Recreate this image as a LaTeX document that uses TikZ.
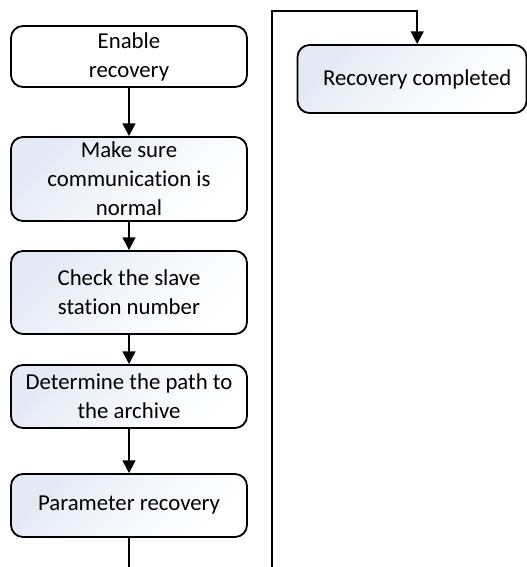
\documentclass[tikz,border=0pt]{standalone}
\usepackage{fontspec}
\setmainfont{Carlito}[Ligatures=NoCommon]
\usetikzlibrary{positioning,arrows.meta,calc}
\definecolor{paleblue}{HTML}{E3E9F5}

\begin{document}
\begin{tikzpicture}[
    plainbox/.style={draw,rounded corners=0.3cm,line width=1.3pt,minimum width=5.9cm,align=center,font=\fontsize{16.2}{20.6}\selectfont},
    pstep/.style={plainbox,top color=paleblue,bottom color=white,middle color=white!60!paleblue,shading angle=45},
    arrow/.style={-{Triangle[length=9pt,width=9pt]},line width=1.6pt},
    link/.style={line width=1.6pt},
]
\useasboundingbox (0,0) rectangle (13.175,14.175);

\node[plainbox] (enable) at (3.225,12.7625) [minimum height=1.525cm] {Enable\\recovery};
\node[pstep]    (comm)   at (3.225,9.7)     [minimum height=2.1cm]   {Make sure\\communication is\\normal};
\node[pstep]    (slave)  at (3.225,6.8625)  [minimum height=2.075cm] {Check the slave\\station number};
\node[pstep]    (path)   at (3.225,4.2625)  [minimum height=1.575cm] {Determine the path to\\the archive};
\node[pstep]    (param)  at (3.225,1.5375)  [minimum height=1.575cm] {Parameter recovery};
\node[pstep]    (done)   at (10.3,12.2)     [minimum width=5.725cm,minimum height=1.7cm] {\hspace*{0.26cm}Recovery completed};

% Column breaks
\coordinate (leftout) at (3.225,0);
\coordinate (rightin) at (6.8,0);
\coordinate (corner)  at (6.8,13.9);

% Left column
\draw[arrow] (enable) -- (comm);
\draw[arrow] (comm)   -- (slave);
\draw[arrow] (slave)  -- (path);
\draw[arrow] (path)   -- (param);
\draw[link]  (param)  -- (leftout);

% Right column
\draw[arrow] (rightin) -- (corner) -| ([xshift=0.13cm]done.north);
\end{tikzpicture}
\end{document}
